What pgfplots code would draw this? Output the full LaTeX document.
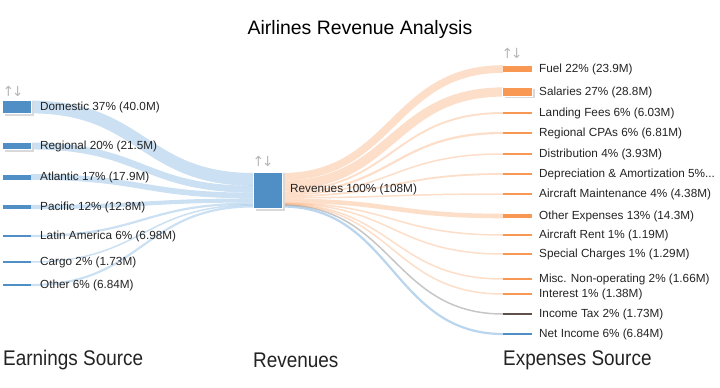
\documentclass[border=0pt]{standalone}
\usepackage{graphicx}
\usepackage{pgfplots}
\pgfplotsset{compat=1.18}
\usepackage{fontspec}
\setmainfont{Liberation Sans}
\newfontfamily\symfont{DejaVu Sans}
\definecolor{nblue}{RGB}{79,143,198}
\definecolor{fblue}{RGB}{140,186,226}
\definecolor{norange}{RGB}{248,152,82}
\definecolor{forange}{RGB}{250,172,118}
\definecolor{nbrown}{RGB}{95,80,75}
\definecolor{txt}{RGB}{35,35,35}
% flow: x0 y0 x1 y1 width style
\newcommand{\flow}[6]{\draw[#6, line width=#5bp, line cap=butt] (axis cs:#1,#2) .. controls (axis cs:{(#1+#3)/2},#2) and (axis cs:{(#1+#3)/2},#4) .. (axis cs:#3,#4);}
\newcommand{\lbl}{\fontsize{11.8}{13}\selectfont\color{txt}}
\newcommand{\biglbl}[1]{\scalebox{1}[1.12]{\fontsize{19}{22}\selectfont #1}}
\begin{document}
\begin{tikzpicture}
\begin{axis}[width=720bp, height=387bp, scale only axis,
  xmin=0, xmax=720, ymin=0, ymax=387, y dir=reverse,
  axis line style={draw=none}, xtick=\empty, ytick=\empty, clip=false]
% ---- left flows (Earnings -> Revenues)
\flow{31}{107}{254}{179.4}{12.8}{fblue, opacity=0.45}
\flow{31}{146}{254}{189.2}{6.9}{fblue, opacity=0.45}
\flow{31}{177}{254}{195.5}{5.7}{fblue, opacity=0.45}
\flow{31}{207}{254}{200.5}{4.1}{fblue, opacity=0.45}
\flow{31}{236}{254}{203.6}{2.2}{fblue, opacity=0.45}
\flow{31}{262}{254}{205.0}{1.5}{fblue, opacity=0.45}
\flow{31}{285}{254}{206.4}{2.2}{fblue, opacity=0.45}
% ---- right flows (Revenues -> Expenses)
\flow{282}{176.8}{503}{69}{7.6}{forange, opacity=0.4}
\flow{282}{185.3}{503}{92}{9.2}{forange, opacity=0.4}
\flow{282}{190.8}{503}{113}{1.9}{forange, opacity=0.4}
\flow{282}{192.9}{503}{133}{2.2}{forange, opacity=0.4}
\flow{282}{194.6}{503}{154}{1.5}{forange, opacity=0.4}
\flow{282}{196.2}{503}{174}{1.8}{forange, opacity=0.4}
\flow{282}{197.8}{503}{194}{1.5}{forange, opacity=0.4}
\flow{282}{200.8}{503}{216}{4.6}{forange, opacity=0.4}
\flow{282}{203.2}{503}{235}{1.5}{forange, opacity=0.4}
\flow{282}{203.6}{503}{254}{1.5}{forange, opacity=0.4}
\flow{282}{204.1}{503}{279}{1.5}{forange, opacity=0.4}
\flow{282}{204.6}{503}{294}{1.5}{forange, opacity=0.4}
\flow{282}{205.1}{503}{314}{1.5}{gray, opacity=0.45}
\flow{282}{206.5}{503}{334}{2.2}{fblue, opacity=0.6}
% ---- shadows
\addplot[line width=14.5bp, black!15, mark=none, forget plot] coordinates {(4.5,108.5) (33.5,108.5)};
\addplot[line width=14bp, white, mark=none, forget plot] coordinates {(2,107) (32,107)};
\addplot[line width=8.5bp, black!15, mark=none, forget plot] coordinates {(4.5,147.5) (33.5,147.5)};
\addplot[line width=8bp, white, mark=none, forget plot] coordinates {(2,146) (32,146)};
\addplot[line width=37.5bp, black!15, mark=none, forget plot] coordinates {(255.5,192) (284.5,192)};
\addplot[line width=37bp, white, mark=none, forget plot] coordinates {(253,190.5) (283,190.5)};
\addplot[line width=9.5bp, black!15, mark=none, forget plot] coordinates {(504.5,93.5) (534.5,93.5)};
\addplot[line width=9bp, white, mark=none, forget plot] coordinates {(502,92) (533,92)};
% ---- left nodes
\addplot[line width=12bp, nblue, mark=none] coordinates {(3,107) (31,107)};
\addplot[line width=6.5bp, nblue, mark=none] coordinates {(3,146) (31,146)};
\addplot[line width=5bp, nblue, mark=none] coordinates {(3,177) (31,177)};
\addplot[line width=4bp, nblue, mark=none] coordinates {(3,207) (31,207)};
\addplot[line width=2bp, nblue, mark=none] coordinates {(3,236) (31,236)};
\addplot[line width=1.6bp, nblue, mark=none] coordinates {(3,262) (31,262)};
\addplot[line width=2bp, nblue, mark=none] coordinates {(3,285) (31,285)};
% ---- revenue node
\addplot[line width=35bp, nblue, mark=none] coordinates {(254,190.5) (282,190.5)};
% ---- right nodes
\addplot[line width=6.5bp, norange, mark=none] coordinates {(503,69) (532,69)};
\addplot[line width=7.5bp, norange, mark=none] coordinates {(503,92) (532,92)};
\addplot[line width=1.8bp, norange, mark=none] coordinates {(503,113) (532,113)};
\addplot[line width=2bp, norange, mark=none] coordinates {(503,133) (532,133)};
\addplot[line width=1.6bp, norange, mark=none] coordinates {(503,154) (532,154)};
\addplot[line width=1.8bp, norange, mark=none] coordinates {(503,174) (532,174)};
\addplot[line width=1.6bp, norange, mark=none] coordinates {(503,194) (532,194)};
\addplot[line width=4.2bp, norange, mark=none] coordinates {(503,216) (532,216)};
\addplot[line width=1.6bp, norange, mark=none] coordinates {(503,235) (532,235)};
\addplot[line width=1.6bp, norange, mark=none] coordinates {(503,254) (532,254)};
\addplot[line width=1.6bp, norange, mark=none] coordinates {(503,279) (532,279)};
\addplot[line width=1.6bp, norange, mark=none] coordinates {(503,294) (532,294)};
\addplot[line width=2bp, nbrown, mark=none] coordinates {(503,314) (532,314)};
\addplot[line width=2bp, nblue, mark=none] coordinates {(503,334) (532,334)};
% ---- sort icons
\node[font=\symfont\fontsize{14}{14}\selectfont, text=black!28, inner sep=0] at (axis cs:13,91) {↑\kern-2.5pt↓};
\node[font=\symfont\fontsize{14}{14}\selectfont, text=black!28, inner sep=0] at (axis cs:263,161) {↑\kern-2.5pt↓};
\node[font=\symfont\fontsize{14}{14}\selectfont, text=black!28, inner sep=0] at (axis cs:512,53) {↑\kern-2.5pt↓};
% ---- labels
\node[font=\lbl, anchor=west, inner sep=0] at (axis cs:40,107) {Domestic 37\% (40.0M)};
\node[font=\lbl, anchor=west, inner sep=0] at (axis cs:40,146) {Regional 20\% (21.5M)};
\node[font=\lbl, anchor=west, inner sep=0] at (axis cs:40,177) {Atlantic 17\% (17.9M)};
\node[font=\lbl, anchor=west, inner sep=0] at (axis cs:40,207) {Pacific 12\% (12.8M)};
\node[font=\lbl, anchor=west, inner sep=0] at (axis cs:40,236) {Latin America 6\% (6.98M)};
\node[font=\lbl, anchor=west, inner sep=0] at (axis cs:40,262) {Cargo 2\% (1.73M)};
\node[font=\lbl, anchor=west, inner sep=0] at (axis cs:40,285) {Other 6\% (6.84M)};
\node[font=\lbl, anchor=west, inner sep=0] at (axis cs:290,189) {Revenues 100\% (108M)};
\node[font=\lbl, anchor=west, inner sep=0] at (axis cs:539,69) {Fuel 22\% (23.9M)};
\node[font=\lbl, anchor=west, inner sep=0] at (axis cs:539,92) {Salaries 27\% (28.8M)};
\node[font=\lbl, anchor=west, inner sep=0] at (axis cs:539,113) {Landing Fees 6\% (6.03M)};
\node[font=\lbl, anchor=west, inner sep=0] at (axis cs:539,133) {Regional CPAs 6\% (6.81M)};
\node[font=\lbl, anchor=west, inner sep=0] at (axis cs:539,154) {Distribution 4\% (3.93M)};
\node[font=\lbl, anchor=west, inner sep=0] at (axis cs:539,174) {Depreciation \& Amortization 5\%...};
\node[font=\lbl, anchor=west, inner sep=0] at (axis cs:539,194) {Aircraft Maintenance 4\% (4.38M)};
\node[font=\lbl, anchor=west, inner sep=0] at (axis cs:539,216) {Other Expenses 13\% (14.3M)};
\node[font=\lbl, anchor=west, inner sep=0] at (axis cs:539,235) {Aircraft Rent 1\% (1.19M)};
\node[font=\lbl, anchor=west, inner sep=0] at (axis cs:539,254) {Special Charges 1\% (1.29M)};
\node[font=\lbl, anchor=west, inner sep=0] at (axis cs:539,279) {Misc. Non-operating 2\% (1.66M)};
\node[font=\lbl, anchor=west, inner sep=0] at (axis cs:539,294) {Interest 1\% (1.38M)};
\node[font=\lbl, anchor=west, inner sep=0] at (axis cs:539,314) {Income Tax 2\% (1.73M)};
\node[font=\lbl, anchor=west, inner sep=0] at (axis cs:539,334) {Net Income 6\% (6.84M)};
% ---- titles
\node[font=\fontsize{19.5}{22}\selectfont, text=black, inner sep=0] at (axis cs:360,29) {Airlines Revenue Analysis};
\node[text=txt, anchor=west, inner sep=0] at (axis cs:3,360) {\biglbl{Earnings Source}};
\node[text=txt, anchor=west, inner sep=0] at (axis cs:253,360) {\biglbl{Revenues}};
\node[text=txt, anchor=west, inner sep=0] at (axis cs:503,360) {\biglbl{Expenses Source}};
\end{axis}
\pgfresetboundingbox
\useasboundingbox (current axis.south west) rectangle (current axis.north east);
\end{tikzpicture}
\end{document}
